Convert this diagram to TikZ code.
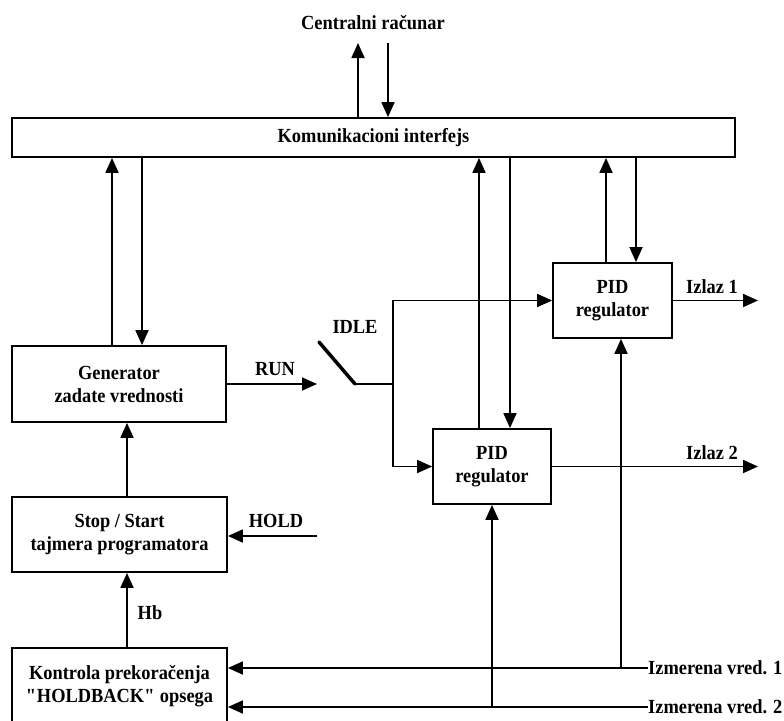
\documentclass[tikz,border=0pt]{standalone}
\usepackage{fontspec}
\setmainfont{Liberation Serif}[FakeStretch=0.92]
\usetikzlibrary{arrows.meta, positioning}

\tikzset{
  blok/.style={draw, line width=1.8pt, align=center, inner sep=0pt,
    font=\bfseries\fontsize{20}{23}\selectfont},
  oznaka/.style={inner sep=0pt, font=\bfseries\fontsize{20}{23}\selectfont},
  veza/.style={line width=1.8pt, -{Triangle[length=15pt,width=13pt]}},
  linija/.style={line width=1.8pt},
}

\begin{document}
\begin{tikzpicture}[x=1pt, y=-1pt]

    \useasboundingbox (0,0) rectangle (784,720);

    % Blokovi
    \node[blok, minimum width=723pt, minimum height=39pt] (ki) at (373.5,137.5) {Komunikacioni interfejs};
    \node[blok, minimum width=214pt, minimum height=76pt] (gen) at (119,384) {Generator\\zadate vrednosti};
    \node[blok, minimum width=215pt, minimum height=75pt] (stst) at (119.5,534.5) {Stop / Start\\tajmera programatora};
    \node[blok, minimum width=215pt, minimum height=76pt] (kont) at (119.5,686) {Kontrola prekoračenja\\\textquotedbl HOLDBACK\textquotedbl{} opsega};
    \node[blok, minimum width=119pt, minimum height=75pt] (pid1) at (612.5,300.5) {PID\\regulator};
    \node[blok, minimum width=118pt, minimum height=75pt] (pid2) at (492,466.5) {PID\\regulator};

    % Oznake
    \node[oznaka] (cr) at (373,23) {Centralni računar};
    \node[oznaka] (run) at (275,369) {RUN};
    \node[oznaka] (idle) at (355,327) {IDLE};
    \node[oznaka] (iz1) at (712,287) {Izlaz 1};
    \node[oznaka] (iz2) at (712,453) {Izlaz 2};
    \node[oznaka] (hold) at (276,521) {HOLD};
    \node[oznaka] (hb) at (150,613) {Hb};
    \node[oznaka, anchor=west] (im1) at (648,668) {Izmerena vred. 1};
    \node[oznaka, anchor=west] (im2) at (648,707) {Izmerena vred. 2};

    % Pomocne tacke
    \coordinate (cgo) at (358,43);
    \coordinate (cdo) at (388,43);
    \coordinate (g1) at (112,0);
    \coordinate (g2) at (142,0);
    \coordinate (p21) at (479,0);
    \coordinate (p22) at (510,0);
    \coordinate (p11) at (606,0);
    \coordinate (p12) at (636,0);
    \coordinate (hbx) at (127,0);
    \coordinate (m1) at (621,0);
    \coordinate (kraj) at (758,0);
    \coordinate (runk) at (317,384);
    \coordinate (sw1) at (319,342);
    \coordinate (sw2) at (355,384);
    \coordinate (raz) at (393,384);
    \coordinate (holdk) at (317,536);

    % Veze sa centralnim racunarom
    \draw[veza] (cgo |- ki.north) -- (cgo);
    \draw[veza] (cdo) -- (cdo |- ki.north);

    % Veze sa interfejsom
    \draw[veza] (g1 |- gen.north) -- (g1 |- ki.south);
    \draw[veza] (g2 |- ki.south) -- (g2 |- gen.north);
    \draw[veza] (p21 |- pid2.north) -- (p21 |- ki.south);
    \draw[veza] (p22 |- ki.south) -- (p22 |- pid2.north);
    \draw[veza] (p11 |- pid1.north) -- (p11 |- ki.south);
    \draw[veza] (p12 |- ki.south) -- (p12 |- pid1.north);

    % Prekidac RUN / IDLE
    \draw[veza] (gen.east) -- (runk);
    \draw[line width=3.5pt, line cap=round] (sw1) -- (sw2);
    \draw[linija] (sw2) -- (raz);
    \draw[veza] (raz) |- (pid1.west);
    \draw[veza] (raz) |- (pid2.west);

    % Izlazi
    \draw[veza] (pid1.east) -- (pid1.east -| kraj);
    \draw[veza] (pid2.east) -- (pid2.east -| kraj);

    % Levi lanac
    \draw[veza] (holdk) -- (holdk -| stst.east);
    \draw[veza] (hbx |- stst.north) -- (hbx |- gen.south);
    \draw[veza] (hbx |- kont.north) -- (hbx |- stst.south);

    % Izmerene vrednosti
    \draw[veza] (im1.west) -- (im1.west -| kont.east);
    \draw[veza] (im2.west) -- (im2.west -| kont.east);
    \draw[veza] (m1 |- im1.west) -- (m1 |- pid1.south);
    \draw[veza] (pid2.south |- im2.west) -- (pid2.south);

\end{tikzpicture}
\end{document}
